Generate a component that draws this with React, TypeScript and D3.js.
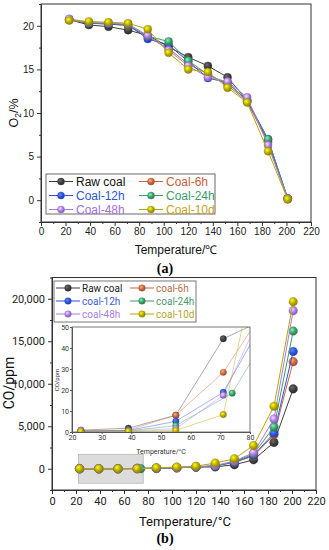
import React, { useEffect, useRef } from 'react';
import * as d3 from 'd3';

// shared temperature steps (°C)
const temps = [23, 39, 55, 71, 87, 104, 120, 136, 152, 168, 185, 201];
const temps24h = [23, 39, 55, 74, 87, 104, 120, 136, 152, 168, 185, 201];

// (a) O2 concentration, %
const o2Raw = [20.7, 20.1, 19.9, 19.5, 18.9, 17.6, 16.4, 15.4, 14.1, 11.4, 6.8, 0.2];
const o2h6 = [20.7, 20.3, 20.2, 20.0, 18.7, 17.4, 15.6, 14.5, 13.2, 11.3, 6.6, 0.1];
const o2h12 = [20.7, 20.3, 20.2, 20.1, 18.5, 17.8, 15.9, 14.0, 13.5, 11.4, 7.0, 0.2];
const o2h24 = [20.7, 20.3, 20.3, 20.1, 18.8, 18.2, 16.0, 14.4, 13.4, 11.5, 7.0, 0.2];
const o2h48 = [20.8, 20.4, 20.3, 20.2, 18.9, 17.2, 15.4, 14.1, 13.6, 11.8, 6.3, 0.2];
const o2d10 = [20.6, 20.5, 20.4, 20.3, 19.6, 16.9, 15.0, 14.7, 12.9, 11.2, 5.6, 0.1];

// (b) CO concentration, ppm
const coRaw = [0.9, 1.8, 8, 44.4, 55, 110, 190, 220, 470, 1060, 3100, 9400];
const coH6 = [0.4, 0.9, 8, 28.4, 63, 130, 220, 330, 750, 1500, 4000, 12600];
const coH12 = [0.4, 0.7, 5.1, 18.9, 59, 120, 200, 320, 780, 1600, 4200, 13800];
const coH24 = [0.4, 0.6, 3, 18.5, 49, 120, 210, 340, 820, 1750, 4900, 16200];
const coH48 = [0.8, 0.5, 1.6, 17.5, 66, 130, 230, 380, 900, 1900, 5850, 18600];
const coD10 = [0.3, 0.3, 0.8, 8.3, 112, 200, 300, 670, 1180, 2740, 7350, 19650];

const namesA = ['Raw coal', 'Coal-6h', 'Coal-12h', 'Coal-24h', 'Coal-48h', 'Coal-10d'];
const namesB = ['Raw coal', 'coal-6h', 'coal-12h', 'coal-24h', 'coal-48h', 'coal-10d'];
const colors = ['#3d3d3d', '#c9653f', '#2f4fdc', '#3e9b68', '#a77be6', '#b7a703'];
const textColorsA = ['#111111', '#c4603a', '#2c55d8', '#3a9a6a', '#a070e0', '#c4a21a'];
const textColorsB = ['#222222', '#b86e48', '#3a5ee0', '#4a9a6c', '#a57ee2', '#b8a62a'];

const xTicks = [0, 20, 40, 60, 80, 100, 120, 140, 160, 180, 200, 220];

export default function App() {
  const ref = useRef<SVGSVGElement>(null);

  useEffect(() => {
    const svg = d3.select(ref.current);
    svg.selectAll('*').remove();

    const defs = svg.append('defs');
    colors.forEach((c, i) => {
      const grad = defs
        .append('radialGradient')
        .attr('id', 'sph' + i)
        .attr('cx', 0.38)
        .attr('cy', 0.35)
        .attr('r', 0.7);
      grad.append('stop').attr('offset', '0%').attr('stop-color', d3.color(c)!.brighter(1.6).formatHex());
      grad.append('stop').attr('offset', '55%').attr('stop-color', c);
      grad.append('stop').attr('offset', '100%').attr('stop-color', d3.color(c)!.darker(0.9).formatHex());
    });

    const sphere = (g: any, cx: number, cy: number, r: number, i: number) => {
      g.append('circle')
        .attr('cx', cx)
        .attr('cy', cy)
        .attr('r', r)
        .attr('fill', 'url(#sph' + i + ')')
        .attr('stroke', d3.color(colors[i])!.darker(0.6).formatHex())
        .attr('stroke-width', 0.4);
    };

    const drawSeries = (g: any, xs: number[], ys: number[], x: any, y: any, i: number, r: number) => {
      const pts = xs.map((t, k) => [t, ys[k]] as [number, number]);
      const line = d3
        .line<[number, number]>()
        .x((d) => x(d[0]))
        .y((d) => y(d[1]));
      g.append('path')
        .attr('d', line(pts))
        .attr('fill', 'none')
        .attr('stroke', colors[i])
        .attr('stroke-width', 1);
      pts.forEach((d) => sphere(g, x(d[0]), y(d[1]), r, i));
    };

    const styleAxis = (g: any, font: string, size: number) => {
      g.selectAll('path').attr('stroke', '#333');
      g.selectAll('line').attr('stroke', '#333');
      g.selectAll('text').attr('fill', '#222').style('font-family', font).style('font-size', size + 'px');
    };

    // ---------- chart (a) ----------
    const xA = d3.scaleLinear().domain([0, 220]).range([41, 311]);
    const yA = d3.scaleLinear().domain([-2.5, 22.5]).range([222, 4]);
    const fontA = '"Liberation Sans", Arial, sans-serif';

    const gA = svg.append('g');
    gA.append('rect')
      .attr('x', xA(0))
      .attr('y', yA(22.5))
      .attr('width', xA(220) - xA(0))
      .attr('height', yA(-2.5) - yA(22.5))
      .attr('fill', 'none')
      .attr('stroke', '#333');

    const axAx = gA
      .append('g')
      .attr('transform', 'translate(0,' + yA(-2.5) + ')')
      .call(d3.axisBottom(xA).tickValues(xTicks).tickSize(4).tickPadding(2).tickSizeOuter(0));
    styleAxis(axAx, fontA, 10);
    gA.append('g')
      .attr('transform', 'translate(0,' + yA(-2.5) + ')')
      .call(d3.axisBottom(xA).tickValues(d3.range(10, 220, 20)).tickSize(2).tickFormat(() => ''))
      .call((g) => g.select('.domain').remove())
      .selectAll('line')
      .attr('stroke', '#333');

    const ayAx = gA
      .append('g')
      .attr('transform', 'translate(' + xA(0) + ',0)')
      .call(d3.axisLeft(yA).tickValues([0, 5, 10, 15, 20]).tickSize(4).tickSizeOuter(0));
    styleAxis(ayAx, fontA, 10);
    gA.append('g')
      .attr('transform', 'translate(' + xA(0) + ',0)')
      .call(d3.axisLeft(yA).tickValues([-2.5, 2.5, 7.5, 12.5, 17.5, 22.5]).tickSize(2).tickFormat(() => ''))
      .call((g) => g.select('.domain').remove())
      .selectAll('line')
      .attr('stroke', '#333');

    const o2Series = [o2Raw, o2h6, o2h12, o2h24, o2h48, o2d10];
    o2Series.forEach((ys, i) => drawSeries(gA, temps, ys, xA, yA, i, 4));

    // legend (a)
    const legA = gA.append('g');
    legA.append('rect')
      .attr('x', 46)
      .attr('y', 174)
      .attr('width', 169)
      .attr('height', 40)
      .attr('fill', '#fff')
      .attr('stroke', '#444')
      .attr('stroke-width', 0.8);
    namesA.forEach((n, i) => {
      const col = i % 2;
      const row = Math.floor(i / 2);
      const x0 = col === 0 ? 49 : 139;
      const yy = 181.5 + row * 14;
      legA.append('line')
        .attr('x1', x0)
        .attr('x2', x0 + 24)
        .attr('y1', yy)
        .attr('y2', yy)
        .attr('stroke', colors[i])
        .attr('stroke-width', 1);
      sphere(legA, x0 + 12, yy, 3.5, i);
      legA.append('text')
        .attr('x', x0 + 27)
        .attr('y', yy)
        .attr('dy', '0.36em')
        .attr('fill', textColorsA[i])
        .style('font-family', fontA)
        .style('font-size', '12px')
        .text(n);
    });

    gA.append('text')
      .attr('x', 176)
      .attr('y', 254)
      .attr('text-anchor', 'middle')
      .style('font-family', fontA)
      .style('font-size', '12px')
      .attr('fill', '#111')
      .text('Temperature/℃');

    const yLabA = gA
      .append('text')
      .attr('transform', 'translate(18,113) rotate(-90)')
      .attr('text-anchor', 'middle')
      .style('font-family', fontA)
      .style('font-size', '12.5px')
      .attr('fill', '#111');
    yLabA.append('tspan').text('O');
    yLabA.append('tspan').attr('dy', 3).style('font-size', '8.5px').text('2');
    yLabA.append('tspan').attr('dy', -3).text('/%');

    svg.append('text')
      .attr('x', 165)
      .attr('y', 273)
      .attr('text-anchor', 'middle')
      .style('font-family', '"Liberation Serif", "DejaVu Serif", serif')
      .style('font-weight', 'bold')
      .style('font-size', '14px')
      .text('(a)');

    // ---------- chart (b) ----------
    const xB = d3.scaleLinear().domain([0, 220]).range([52, 316]);
    const yB = d3.scaleLinear().domain([-2500, 22500]).range([490, 277.5]);
    const fontB = 'Roboto, "Open Sans", sans-serif';

    const gB = svg.append('g');
    gB.append('rect')
      .attr('x', xB(0))
      .attr('y', yB(22500))
      .attr('width', xB(220) - xB(0))
      .attr('height', yB(-2500) - yB(22500))
      .attr('fill', 'none')
      .attr('stroke', '#333');

    const bxAx = gB
      .append('g')
      .attr('transform', 'translate(0,' + yB(-2500) + ')')
      .call(d3.axisBottom(xB).tickValues(xTicks).tickSize(4).tickPadding(3).tickSizeOuter(0));
    styleAxis(bxAx, fontB, 11);
    gB.append('g')
      .attr('transform', 'translate(0,' + yB(-2500) + ')')
      .call(d3.axisBottom(xB).tickValues(d3.range(10, 220, 20)).tickSize(2).tickFormat(() => ''))
      .call((g) => g.select('.domain').remove())
      .selectAll('line')
      .attr('stroke', '#333');

    const byAx = gB
      .append('g')
      .attr('transform', 'translate(' + xB(0) + ',0)')
      .call(
        d3
          .axisLeft(yB)
          .tickValues([0, 5000, 10000, 15000, 20000])
          .tickFormat(d3.format(','))
          .tickSize(4)
          .tickPadding(3)
          .tickSizeOuter(0)
      );
    styleAxis(byAx, fontB, 11);
    gB.append('g')
      .attr('transform', 'translate(' + xB(0) + ',0)')
      .call(d3.axisLeft(yB).tickValues([-2500, 2500, 7500, 12500, 17500, 22500]).tickSize(2).tickFormat(() => ''))
      .call((g) => g.select('.domain').remove())
      .selectAll('line')
      .attr('stroke', '#333');

    // shaded zoom area
    gB.append('rect')
      .attr('x', xB(22))
      .attr('y', yB(1700))
      .attr('width', xB(76) - xB(22))
      .attr('height', yB(-1700) - yB(1700))
      .attr('fill', '#dcdcdc')
      .attr('stroke', '#b5b5b5')
      .attr('stroke-width', 0.8);

    const coSeries = [coRaw, coH6, coH12, coH24, coH48, coD10];
    const coTemps = [temps, temps, temps, temps24h, temps, temps];
    coSeries.forEach((ys, i) => drawSeries(gB, coTemps[i], ys, xB, yB, i, 4.3));

    // inset
    const xI = d3.scaleLinear().domain([20, 80]).range([72, 250]);
    const yI = d3.scaleLinear().domain([0, 50]).range([432, 327]);
    defs.append('clipPath')
      .attr('id', 'insetClip')
      .append('rect')
      .attr('x', 72)
      .attr('y', 327)
      .attr('width', 178)
      .attr('height', 105);
    const gI = gB.append('g');
    gI.append('rect')
      .attr('x', 72)
      .attr('y', 327)
      .attr('width', 178)
      .attr('height', 105)
      .attr('fill', '#fff')
      .attr('stroke', '#555')
      .attr('stroke-width', 0.8);
    const gIc = gI.append('g').attr('clip-path', 'url(#insetClip)');
    coSeries.forEach((ys, i) => {
      const pts = coTemps[i].map((t, k) => [t, ys[k]] as [number, number]);
      const line = d3
        .line<[number, number]>()
        .x((d) => xI(d[0]))
        .y((d) => yI(d[1]));
      gIc.append('path')
        .attr('d', line(pts))
        .attr('fill', 'none')
        .attr('stroke', colors[i])
        .attr('stroke-opacity', 0.55)
        .attr('stroke-width', 0.8);
    });
    coSeries.forEach((ys, i) => {
      coTemps[i].forEach((t, k) => {
        if (t <= 80 && ys[k] <= 50) sphere(gIc, xI(t), yI(ys[k]), 3.2, i);
      });
    });

    const ixAx = gI
      .append('g')
      .attr('transform', 'translate(0,432)')
      .call(d3.axisBottom(xI).tickValues([20, 30, 40, 50, 60, 70, 80]).tickSize(2).tickPadding(1).tickSizeOuter(0));
    ixAx.selectAll('path,line').attr('stroke', '#555');
    ixAx.selectAll('text').attr('fill', '#333').style('font-family', fontB).style('font-size', '7px');
    const iyAx = gI
      .append('g')
      .attr('transform', 'translate(72,0)')
      .call(d3.axisLeft(yI).tickValues([0, 10, 20, 30, 40, 50]).tickSize(2).tickPadding(1).tickSizeOuter(0));
    iyAx.selectAll('path,line').attr('stroke', '#555');
    iyAx.selectAll('text').attr('fill', '#333').style('font-family', fontB).style('font-size', '7px');

    gI.append('text')
      .attr('x', 161)
      .attr('y', 454)
      .attr('text-anchor', 'middle')
      .style('font-family', fontB)
      .style('font-size', '7px')
      .attr('fill', '#333')
      .text('Temperature/°C');
    gI.append('text')
      .attr('transform', 'translate(59,380) rotate(-90)')
      .attr('text-anchor', 'middle')
      .style('font-family', fontB)
      .style('font-size', '6px')
      .attr('fill', '#333')
      .text('CO/ppm');

    // legend (b)
    const legB = gB.append('g');
    legB.append('rect')
      .attr('x', 54)
      .attr('y', 281)
      .attr('width', 142)
      .attr('height', 41)
      .attr('fill', '#fff')
      .attr('stroke', '#555')
      .attr('stroke-width', 0.8);
    namesB.forEach((n, i) => {
      const col = i % 2;
      const row = Math.floor(i / 2);
      const x0 = col === 0 ? 56 : 130;
      const yy = 288 + row * 13;
      legB.append('line')
        .attr('x1', x0)
        .attr('x2', x0 + 24)
        .attr('y1', yy)
        .attr('y2', yy)
        .attr('stroke', colors[i])
        .attr('stroke-width', 1);
      sphere(legB, x0 + 12, yy, 3.3, i);
      legB.append('text')
        .attr('x', x0 + 26)
        .attr('y', yy)
        .attr('dy', '0.35em')
        .attr('fill', textColorsB[i])
        .style('font-family', fontB)
        .style('font-size', '10px')
        .text(n);
    });

    gB.append('text')
      .attr('x', 185)
      .attr('y', 526)
      .attr('text-anchor', 'middle')
      .style('font-family', fontB)
      .style('font-size', '13px')
      .attr('fill', '#111')
      .text('Temperature/°C');
    gB.append('text')
      .attr('transform', 'translate(14,383) rotate(-90)')
      .attr('text-anchor', 'middle')
      .style('font-family', fontB)
      .style('font-size', '14px')
      .attr('fill', '#111')
      .text('CO/ppm');

    svg.append('text')
      .attr('x', 165)
      .attr('y', 543)
      .attr('text-anchor', 'middle')
      .style('font-family', '"Liberation Serif", "DejaVu Serif", serif')
      .style('font-weight', 'bold')
      .style('font-size', '14px')
      .text('(b)');
  }, []);

  return (
    <svg
      ref={ref}
      width={329}
      height={550}
      style={{ position: 'absolute', left: 0, top: 0, background: '#fff' }}
    />
  );
}
